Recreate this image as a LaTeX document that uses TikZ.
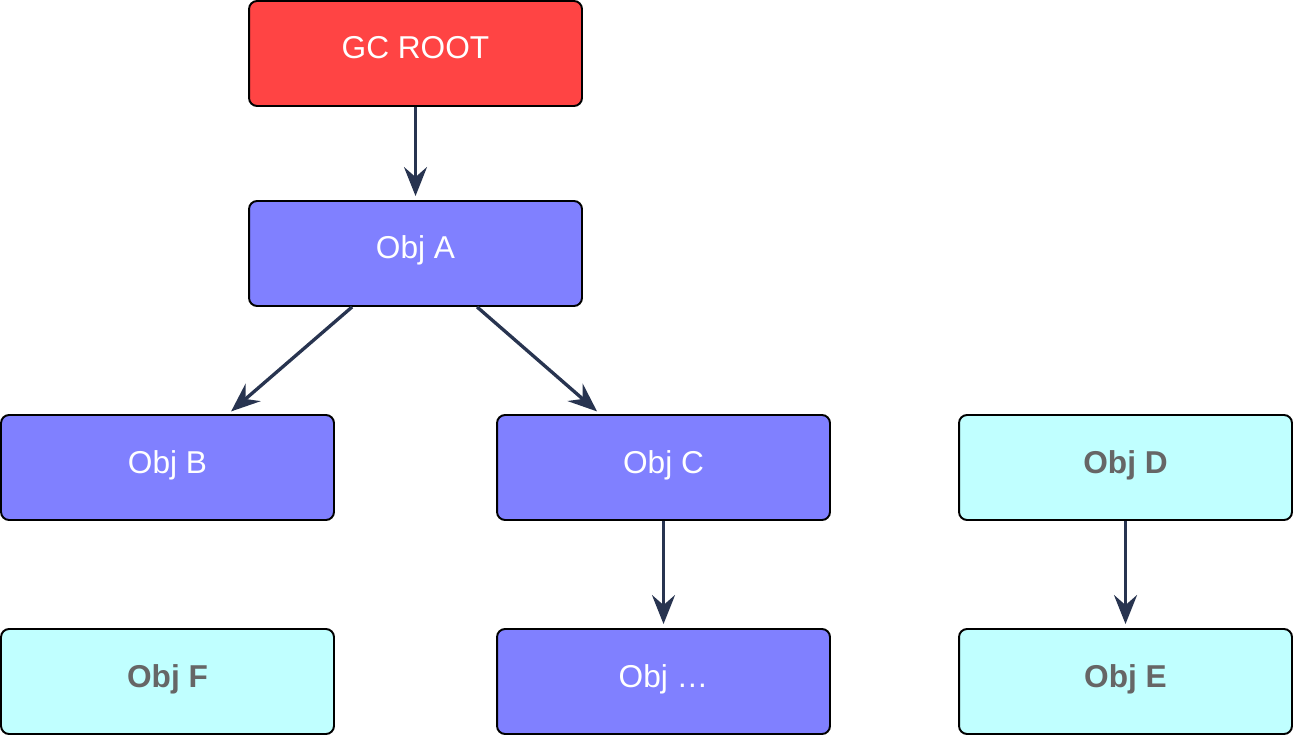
\documentclass[tikz,border=0pt]{standalone}
\usepackage{fontspec}
\setmainfont{Liberation Sans}
\usetikzlibrary{calc,arrows.meta}
\definecolor{rootred}{HTML}{FF4444}
\definecolor{objblue}{HTML}{8080FF}
\definecolor{objcyan}{HTML}{C0FFFF}
\definecolor{textgray}{HTML}{666666}
\definecolor{linkcol}{HTML}{283450}
\begin{document}
\begin{tikzpicture}[x=0.02cm,y=-0.02cm]
       \tikzstyle{obj} = [rectangle, draw=black, line width=1.1pt, rounded corners=0.16cm,
                          minimum width=6.66cm, minimum height=2.1cm, inner sep=0pt,
                          text height=0.46cm, text depth=0.24cm,
                          font=\fontsize{18}{20}\selectfont];
       \tikzstyle{live} = [obj, fill=objblue, text=white];
       \tikzstyle{dead} = [obj, fill=objcyan, text=textgray, font=\fontsize{18}{20}\selectfont\bfseries];
       \tikzstyle{link} = [draw=linkcol, line width=1.9pt, shorten >=0.08cm,
                           -{Stealth[length=0.58cm,width=0.46cm,inset=0.2cm]}];
       \useasboundingbox (0,0) rectangle (1294,736);

       \node[obj, fill=rootred, text=white] (root) at (415.5,53.5) {GC ROOT};
       \node[live] (a) at (415.5,253.5) {Obj A};
       \node[live] (b) at (167.5,467.5) {Obj B};
       \node[live] (c) at (663.5,467.5) {Obj C};
       \node[dead] (d) at (1125.5,467.5) {Obj D};
       \node[dead] (f) at (167.5,681.5) {Obj F};
       \node[live] (more) at (663.5,681.5) {Obj \dots};
       \node[dead] (e) at (1125.5,681.5) {Obj E};

       \draw[link] (root.south) -- (a.north);
       \draw[link] ($(a.south west)+(104,0)$) -- ($(b.north west)+(228,0)$);
       \draw[link] ($(a.south west)+(229,0)$) -- ($(c.north west)+(104,0)$);
       \draw[link] (c.south) -- (more.north);
       \draw[link] (d.south) -- (e.north);
\end{tikzpicture}
\end{document}
